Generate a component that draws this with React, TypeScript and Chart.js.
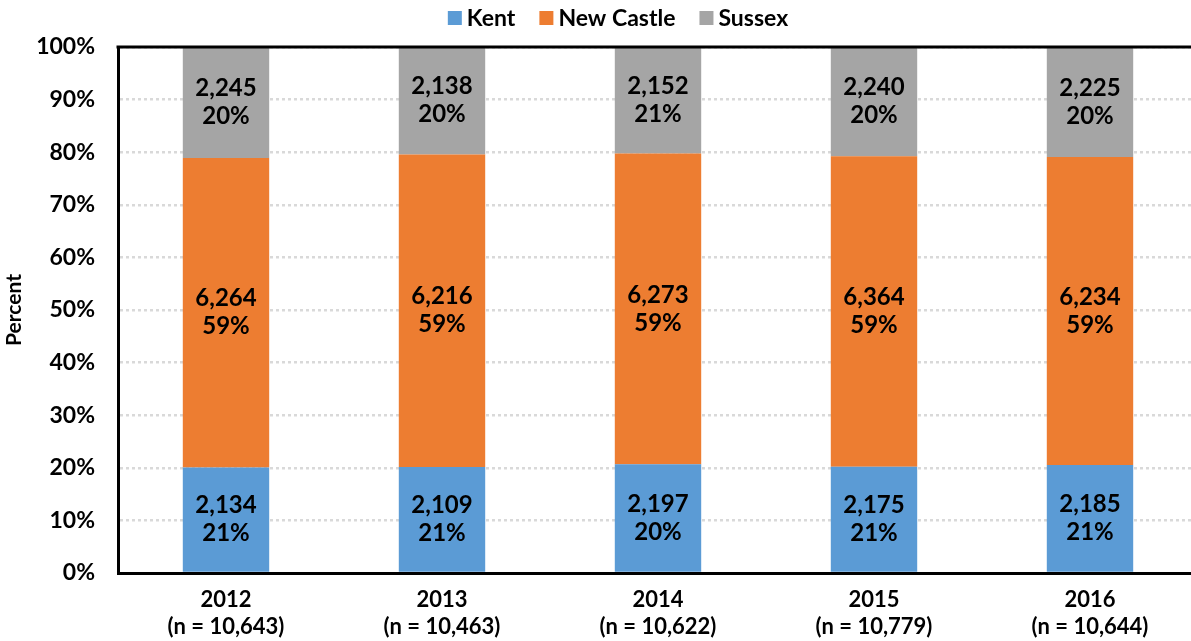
import React, { useEffect, useRef } from "react";
import { Chart, registerables } from "chart.js";

Chart.register(...registerables);

const years = ["2012", "2013", "2014", "2015", "2016"];
const totals = ["10,643", "10,463", "10,622", "10,779", "10,644"];
const kent = [2134, 2109, 2197, 2175, 2185];
const newCastle = [6264, 6216, 6273, 6364, 6234];
const sussex = [2245, 2138, 2152, 2240, 2225];
const kentPct = ["21%", "21%", "20%", "21%", "21%"];
const newCastlePct = ["59%", "59%", "59%", "59%", "59%"];
const sussexPct = ["20%", "20%", "21%", "20%", "20%"];
const yTicks = [0, 10, 20, 30, 40, 50, 60, 70, 80, 90, 100];

const FONT = "Lato";
const colors = ["#5B9BD5", "#ED7D31", "#A5A5A5"];
const seriesNames = ["Kent", "New Castle", "Sussex"];

export default function App() {
  const ref = useRef<HTMLCanvasElement>(null);
  useEffect(() => {
    const counts = [kent, newCastle, sussex];
    const pctLabels = [kentPct, newCastlePct, sussexPct];
    const sums = years.map((_, i) => kent[i] + newCastle[i] + sussex[i]);
    const share = (arr: number[]) => arr.map((v, i) => (v / sums[i]) * 100);

    const labelsPlugin = {
      id: "segLabels",
      afterDatasetsDraw(chart: any) {
        const ctx = chart.ctx;
        ctx.save();
        ctx.font = `bold 24px ${FONT}`;
        ctx.fillStyle = "#000";
        ctx.textAlign = "center";
        ctx.textBaseline = "middle";
        chart.data.datasets.forEach((_: any, di: number) => {
          const meta = chart.getDatasetMeta(di);
          meta.data.forEach((el: any, i: number) => {
            const cy = (el.y + el.base) / 2;
            ctx.fillText(counts[di][i].toLocaleString("en-US"), el.x, cy - 14);
            ctx.fillText(pctLabels[di][i], el.x, cy + 14);
          });
        });
        const a = chart.chartArea;
        ctx.strokeStyle = "#000";
        ctx.lineWidth = 3;
        ctx.beginPath();
        ctx.moveTo(a.left - 1.5, a.top);
        ctx.lineTo(a.right + 20, a.top);
        ctx.stroke();
        ctx.restore();
      },
      afterDraw(chart: any) {
        const ctx = chart.ctx;
        ctx.save();
        ctx.font = `bold 23px ${FONT}`;
        ctx.textBaseline = "middle";
        ctx.textAlign = "left";
        const box = 14;
        const gapText = 5;
        const gapItem = 24;
        const widths = seriesNames.map((n) => box + gapText + ctx.measureText(n).width);
        const total = widths.reduce((a, b) => a + b, 0) + gapItem * (seriesNames.length - 1);
        let x = 618 - total / 2;
        const cy = 18;
        seriesNames.forEach((n, i) => {
          ctx.fillStyle = colors[i];
          ctx.fillRect(x, cy - box / 2, box, box);
          ctx.fillStyle = "#000";
          ctx.fillText(n, x + box + gapText, cy + 1);
          x += widths[i] + gapItem;
        });
        ctx.restore();
      },
    };

    const chart = new Chart(ref.current!, {
      type: "bar",
      data: {
        labels: years.map((y, i) => [y, `(n = ${totals[i]})`]),
        datasets: [
          { label: "Kent", data: share(kent), backgroundColor: colors[0] },
          { label: "New Castle", data: share(newCastle), backgroundColor: colors[1] },
          { label: "Sussex", data: share(sussex), backgroundColor: colors[2] },
        ],
      },
      options: {
        responsive: false,
        animation: false,
        layout: { padding: { top: 47, right: 12, left: 0, bottom: 0 } },
        datasets: { bar: { barPercentage: 0.4, categoryPercentage: 1, borderWidth: 0 } },
        plugins: { legend: { display: false }, tooltip: { enabled: false } },
        scales: {
          x: {
            stacked: true,
            grid: { display: false, drawTicks: false },
            border: { display: true, color: "#000", width: 3 },
            ticks: {
              color: "#000",
              font: { family: FONT, weight: "bold", size: 22, lineHeight: 1.2 },
              padding: 14,
              maxRotation: 0,
            },
            afterFit(scale: any) {
              scale.height = 68;
            },
          },
          y: {
            stacked: true,
            min: 0,
            max: 100,
            afterBuildTicks(scale: any) {
              scale.ticks = yTicks.map((v) => ({ value: v }));
            },
            grid: { color: "#D9D9D9", lineWidth: 2.5, drawTicks: false },
            border: { display: true, color: "#000", width: 3, dash: [3, 3] },
            ticks: {
              color: "#000",
              font: { family: FONT, weight: "bold", size: 23 },
              padding: 23,
              callback: (v: any) => `${v}%`,
            },
            title: {
              display: true,
              text: "Percent",
              color: "#000",
              font: { family: FONT, weight: "bold", size: 21, lineHeight: 1.1 },
              padding: { top: 3, bottom: 0 },
            },
            afterFit(scale: any) {
              scale.width = 118;
            },
          },
        },
      },
      plugins: [labelsPlugin],
    } as any);
    return () => chart.destroy();
  }, []);

  return (
    <div style={{ position: "absolute", left: 0, top: 0, width: 1191, height: 641, overflow: "hidden", background: "#fff" }}>
      <canvas ref={ref} width={1210} height={641} style={{ display: "block" }} />
    </div>
  );
}
